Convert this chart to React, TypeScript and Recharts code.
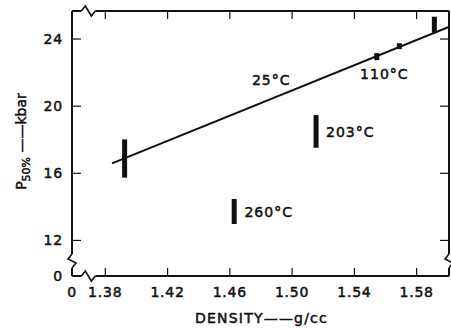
import React from 'react';
import { ComposedChart, Line, Scatter, XAxis, YAxis, ReferenceLine, ReferenceDot } from 'recharts';

// axis ranges (broken axes: the lower-left corner stands for 0)
const X_MIN = 1.3586;
const X_MAX = 1.6008;
const Y_MIN = 9.88;
const Y_MAX = 25.67;

const xTicks = [1.38, 1.42, 1.46, 1.5, 1.54, 1.58];
const yTicks = [12, 16, 20, 24];
const breakLabel = '0';

// 25°C fit line, end points
const fitX = [1.3843, 1.601];
const fitY = [16.59, 24.73];

// measured P50% spans
const rangeX = [1.3924, 1.4628, 1.5154, 1.5544, 1.5689, 1.5914];
const rangeLow = [15.74, 12.98, 17.52, 22.74, 23.4, 24.38];
const rangeHigh = [18.02, 14.47, 19.47, 23.16, 23.75, 25.33];

// temperature labels
const tempNames = ['25°C', '110°C', '203°C', '260°C'];
const tempX = [1.4742, 1.5437, 1.5218, 1.4694];
const tempY = [21.26, 21.62, 18.18, 13.38];

// axis break marks
const vBreakX = [X_MIN, X_MAX];
const vBreakY = 10.77;
const hBreakX = 1.3691;
const hBreakY = [Y_MIN, Y_MAX];

const INK = '#111';
const FONT = '"DejaVu Sans", sans-serif';
const PLOT = { left: 72, right: 449, top: 11, bottom: 276 };
// lettering in the scan is heavier than DejaVu regular
const textInk = { fill: INK, stroke: INK, strokeWidth: 0.5, fontFamily: FONT, fontSize: 14 };

const fitLine = fitX.map((x, i) => ({ x, y: fitY[i] }));
const spans = rangeX.map((x, i) => [
  { x, y: rangeLow[i] },
  { x, y: rangeHigh[i] },
]);
const tempLabels = tempNames.map((text, i) => ({ x: tempX[i], y: tempY[i], text }));

function XTick({ x, payload }: any) {
  const v = payload.value;
  const isBreak = v === X_MIN;
  return (
    <g>
      {!isBreak && (
        <>
          <line x1={x} x2={x} y1={PLOT.bottom} y2={PLOT.bottom - 8} stroke={INK} strokeWidth={1.2} />
          <line x1={x} x2={x} y1={PLOT.top} y2={PLOT.top + 8} stroke={INK} strokeWidth={1.2} />
        </>
      )}
      <text x={x} y={297} textAnchor="middle" letterSpacing={0.8} {...textInk}>
        {isBreak ? breakLabel : v.toFixed(2)}
      </text>
    </g>
  );
}

function YTick({ y, payload }: any) {
  const v = payload.value;
  const isBreak = v === Y_MIN;
  return (
    <g>
      {!isBreak && (
        <>
          <line x1={PLOT.left} x2={PLOT.left + 9} y1={y} y2={y} stroke={INK} strokeWidth={1.2} />
          <line x1={PLOT.right} x2={PLOT.right - 9} y1={y} y2={y} stroke={INK} strokeWidth={1.2} />
        </>
      )}
      <text x={63} y={y + 5} textAnchor="end" letterSpacing={0.8} {...textInk}>
        {isBreak ? breakLabel : v}
      </text>
    </g>
  );
}

function XTitle({ viewBox }: any) {
  const cx = viewBox.x + viewBox.width / 2 + 1;
  return (
    <text x={cx} y={323} textAnchor="middle" letterSpacing={1.2} {...textInk}>
      DENSITY——g/cc
    </text>
  );
}

function YTitle({ viewBox }: any) {
  const cx = 25.5;
  const cy = viewBox.y + viewBox.height / 2 - 2;
  return (
    <text x={cx} y={cy} transform={`rotate(-90, ${cx}, ${cy})`} textAnchor="middle" {...textInk}>
      P
      <tspan fontSize={11} dy={4}>50%</tspan>
      <tspan dy={-4}> ——kbar</tspan>
    </text>
  );
}

function VBreak({ cx, cy }: any) {
  return (
    <g>
      <rect x={cx - 6} y={cy - 7} width={12} height={14} fill="#fff" />
      <path
        d={`M${cx},${cy - 7} L${cx - 4},${cy - 2} L${cx + 4},${cy + 2} L${cx},${cy + 7}`}
        fill="none"
        stroke={INK}
        strokeWidth={1.6}
      />
    </g>
  );
}

function HBreak({ cx, cy }: any) {
  return (
    <g>
      <rect x={cx - 7} y={cy - 6} width={14} height={12} fill="#fff" />
      <path
        d={`M${cx - 7},${cy} L${cx - 3},${cy - 5} L${cx + 3},${cy + 5} L${cx + 7},${cy}`}
        fill="none"
        stroke={INK}
        strokeWidth={1.6}
      />
    </g>
  );
}

function TempLabel(props: any) {
  const { cx, cy, payload } = props;
  return (
    <text x={cx} y={cy} letterSpacing={1} {...textInk}>
      {payload.text}
    </text>
  );
}

export default function App() {
  return (
    <div style={{ position: 'absolute', left: 0, top: 0, width: 451, height: 330, background: '#fff' }}>
      <ComposedChart width={451} height={330} margin={{ top: 11, right: 2, bottom: 0, left: 0 }}>
        <XAxis
          type="number"
          dataKey="x"
          domain={[X_MIN, X_MAX]}
          ticks={[X_MIN, ...xTicks]}
          interval={0}
          allowDataOverflow
          height={54}
          tick={XTick}
          tickLine={false}
          axisLine={{ stroke: INK, strokeWidth: 2 }}
          label={<XTitle />}
        />
        <YAxis
          type="number"
          dataKey="y"
          domain={[Y_MIN, Y_MAX]}
          ticks={[Y_MIN, ...yTicks]}
          interval={0}
          allowDataOverflow
          width={72}
          tick={YTick}
          tickLine={false}
          axisLine={{ stroke: INK, strokeWidth: 2 }}
          label={<YTitle />}
        />
        <ReferenceLine x={X_MAX} stroke={INK} strokeWidth={2} ifOverflow="visible" />
        <ReferenceLine y={Y_MAX} stroke={INK} strokeWidth={2} ifOverflow="visible" />
        <Line
          data={fitLine}
          dataKey="y"
          type="linear"
          stroke={INK}
          strokeWidth={2}
          dot={false}
          activeDot={false}
          isAnimationActive={false}
        />
        {spans.map((d, i) => (
          <Line
            key={i}
            data={d}
            dataKey="y"
            type="linear"
            stroke={INK}
            strokeWidth={5}
            dot={false}
            activeDot={false}
            isAnimationActive={false}
          />
        ))}
        <Scatter data={tempLabels} dataKey="y" shape={TempLabel} isAnimationActive={false} />
        {vBreakX.map((x, i) => (
          <ReferenceDot key={'v' + i} x={x} y={vBreakY} r={0} ifOverflow="visible" shape={VBreak} />
        ))}
        {hBreakY.map((y, i) => (
          <ReferenceDot key={'h' + i} x={hBreakX} y={y} r={0} ifOverflow="visible" shape={HBreak} />
        ))}
      </ComposedChart>
    </div>
  );
}
